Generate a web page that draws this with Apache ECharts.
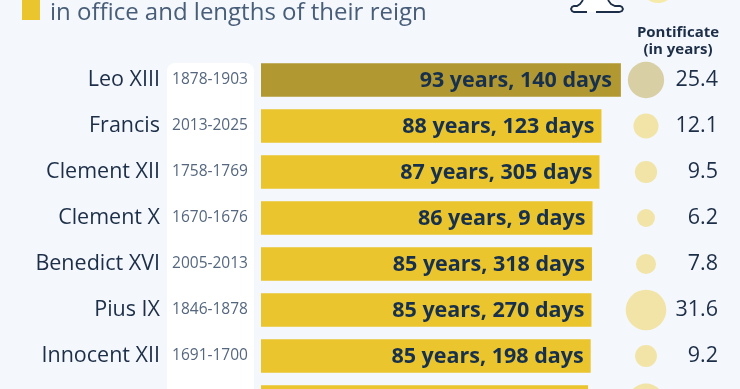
<!DOCTYPE html>
<html><head><meta charset="utf-8">
<style>html,body{margin:0;padding:0;background:#f4f7fb}#c{width:740px;height:389px}</style>
<script src="https://cdn.jsdelivr.net/npm/echarts@6/dist/echarts.min.js"></script>
</head><body><div id="c"></div>
<script>
const popes = ['Leo XIII','Francis','Clement XII','Clement X','Benedict XVI','Pius IX','Innocent XII','John Paul II'];
const terms = ['1878-1903','2013-2025','1758-1769','1670-1676','2005-2013','1846-1878','1691-1700','1978-2005'];
const ageLabels = ['93 years, 140 days','88 years, 123 days','87 years, 305 days','86 years, 9 days','85 years, 318 days','85 years, 270 days','85 years, 198 days','84 years, 319 days'];
const ageYears = [93.38,88.34,87.83,86.02,85.87,85.74,85.54,84.87];
const pontificate = [25.4,12.1,9.5,6.2,7.8,31.6,9.2,26.5];
const highlighted = 'Leo XIII';

const font = '"Open Sans", sans-serif';
const ink = '#1c2e48';
const chart = echarts.init(document.getElementById('c'), null, {renderer:'canvas'});
chart.setOption({
  animation:false,
  backgroundColor:'#f4f7fb',
  textStyle:{fontFamily:font},
  graphic:[
    {type:'rect',z:-1,shape:{x:167,y:63,width:87,height:340,r:8},style:{fill:'#ffffff'}},
    {type:'rect',shape:{x:22,y:-4,width:18,height:24},style:{fill:'#ebc52d'}},
    {type:'text',style:{x:50,y:13,text:'in office and lengths of their reign',font:'24px '+font,fill:'#475d78',verticalAlign:'middle'}},
    {type:'circle',shape:{cx:658,cy:-14,r:17},style:{fill:'#f6eaa8'}},
    {type:'polygon',shape:{points:[[583,-2],[608,-2],[620,6],[622,12],[571,12],[573,6]]},style:{fill:'#ffffff'}},
    {type:'polyline',shape:{points:[[587,12],[574,12],[572,11],[571,9],[572,7],[574,6],[577,6],[580,4],[583,0]]},style:{fill:'none',stroke:ink,lineWidth:1.8}},
    {type:'polyline',shape:{points:[[596,12],[619,12],[622,11],[623,9],[622,7],[620,6],[615,6],[611,4],[608,0]]},style:{fill:'none',stroke:ink,lineWidth:1.8}},
    {type:'text',style:{x:678,y:33,text:'Pontificate',font:'bold 15px '+font,fill:ink,align:'center',verticalAlign:'middle'}},
    {type:'text',style:{x:678,y:50,text:'(in years)',font:'bold 15px '+font,fill:ink,align:'center',verticalAlign:'middle'}}
  ],
  grid:[
    {left:261,top:57,width:385.4,height:368,outerBoundsMode:'none'},
    {left:621,top:57,width:50,height:368,outerBoundsMode:'none'}
  ],
  xAxis:[
    {gridIndex:0,type:'value',min:0,max:100,show:false},
    {gridIndex:1,type:'value',min:0,max:1,show:false}
  ],
  yAxis:[
    {gridIndex:0,type:'category',inverse:true,data:terms,position:'left',axisLine:{show:false},axisTick:{show:false},
      axisLabel:{margin:51,align:'center',fontSize:15.5,color:'#55677f',fontFamily:font,padding:[4,0,0,0]}},
    {gridIndex:0,type:'category',inverse:true,data:popes,position:'left',axisLine:{show:false},axisTick:{show:false},
      axisLabel:{margin:101,align:'right',fontSize:21.5,color:ink,fontFamily:font,padding:[6,0,0,0]}},
    {gridIndex:1,type:'category',inverse:true,data:pontificate.map(v=>v.toFixed(1)),position:'right',axisLine:{show:false},axisTick:{show:false},
      axisLabel:{margin:47,align:'right',fontSize:21.5,color:ink,fontFamily:font,padding:[6,0,0,0]}}
  ],
  series:[
    {type:'bar',xAxisIndex:0,yAxisIndex:0,barWidth:33.5,
      data:ageYears.map((v,i)=>({value:v,itemStyle:{color:popes[i]===highlighted?'#b29830':'#ebc52d'},
        label:{show:true,position:'insideRight',distance:popes[i]===highlighted?9:7,offset:[0,1],formatter:ageLabels[i],fontFamily:font,fontWeight:'bold',fontSize:21.5,color:'#17304d'}}))},
    {type:'scatter',xAxisIndex:1,yAxisIndex:2,
      data:pontificate.map((v,i)=>({value:[0.5,i],symbolSize:2*3.6*Math.sqrt(v),
        itemStyle:{color:popes[i]===highlighted?'#d9cfa5':'#f1e4a6',opacity:1}}))}
  ]
});
</script></body></html>
